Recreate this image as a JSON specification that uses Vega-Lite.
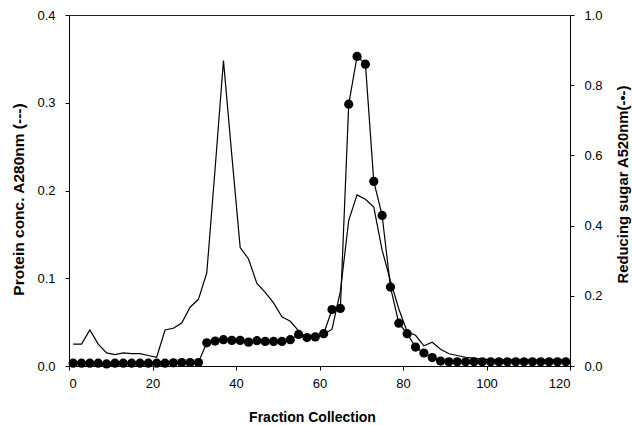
{
  "$schema": "https://vega.github.io/schema/vega-lite/v6.json",
  "width": 501,
  "height": 351,
  "autosize": {"type": "none"},
  "padding": {"left": 69, "top": 15, "right": 62, "bottom": 59},
  "background": "white",
  "config": {
    "view": {"stroke": "#222", "strokeWidth": 1},
    "font": "Liberation Sans",
    "axis": {
      "domainColor": "#000",
      "tickColor": "#000",
      "tickSize": 4,
      "labelColor": "#000",
      "labelFont": "Liberation Sans",
      "labelFontSize": 13,
      "titleFont": "Liberation Sans",
      "titleFontWeight": "bold",
      "titleColor": "#000",
      "grid": false
    }
  },
  "data": {
    "values": [
      {"fraction": 1, "protein": 0.025, "sugar": 0.008},
      {"fraction": 3, "protein": 0.025, "sugar": 0.008},
      {"fraction": 5, "protein": 0.041, "sugar": 0.008},
      {"fraction": 7, "protein": 0.025, "sugar": 0.008},
      {"fraction": 9, "protein": 0.015, "sugar": 0.006},
      {"fraction": 11, "protein": 0.013, "sugar": 0.008},
      {"fraction": 13, "protein": 0.015, "sugar": 0.008},
      {"fraction": 15, "protein": 0.014, "sugar": 0.008},
      {"fraction": 17, "protein": 0.014, "sugar": 0.008},
      {"fraction": 19, "protein": 0.012, "sugar": 0.008},
      {"fraction": 21, "protein": 0.010, "sugar": 0.008},
      {"fraction": 23, "protein": 0.041, "sugar": 0.008},
      {"fraction": 25, "protein": 0.043, "sugar": 0.009},
      {"fraction": 27, "protein": 0.049, "sugar": 0.010},
      {"fraction": 29, "protein": 0.067, "sugar": 0.010},
      {"fraction": 31, "protein": 0.076, "sugar": 0.010},
      {"fraction": 33, "protein": 0.106, "sugar": 0.066},
      {"fraction": 35, "protein": 0.225, "sugar": 0.071},
      {"fraction": 37, "protein": 0.348, "sugar": 0.075},
      {"fraction": 39, "protein": 0.240, "sugar": 0.073},
      {"fraction": 41, "protein": 0.135, "sugar": 0.073},
      {"fraction": 43, "protein": 0.122, "sugar": 0.068},
      {"fraction": 45, "protein": 0.094, "sugar": 0.072},
      {"fraction": 47, "protein": 0.084, "sugar": 0.070},
      {"fraction": 49, "protein": 0.072, "sugar": 0.070},
      {"fraction": 51, "protein": 0.056, "sugar": 0.070},
      {"fraction": 53, "protein": 0.051, "sugar": 0.075},
      {"fraction": 55, "protein": 0.040, "sugar": 0.090},
      {"fraction": 57, "protein": 0.032, "sugar": 0.081},
      {"fraction": 59, "protein": 0.032, "sugar": 0.083},
      {"fraction": 61, "protein": 0.036, "sugar": 0.092},
      {"fraction": 63, "protein": 0.042, "sugar": 0.161},
      {"fraction": 65, "protein": 0.085, "sugar": 0.164},
      {"fraction": 67, "protein": 0.166, "sugar": 0.746},
      {"fraction": 69, "protein": 0.195, "sugar": 0.882},
      {"fraction": 71, "protein": 0.190, "sugar": 0.860},
      {"fraction": 73, "protein": 0.181, "sugar": 0.526},
      {"fraction": 75, "protein": 0.132, "sugar": 0.429},
      {"fraction": 77, "protein": 0.097, "sugar": 0.225},
      {"fraction": 79, "protein": 0.065, "sugar": 0.122},
      {"fraction": 81, "protein": 0.039, "sugar": 0.092},
      {"fraction": 83, "protein": 0.035, "sugar": 0.054},
      {"fraction": 85, "protein": 0.023, "sugar": 0.037},
      {"fraction": 87, "protein": 0.027, "sugar": 0.024},
      {"fraction": 89, "protein": 0.019, "sugar": 0.014},
      {"fraction": 91, "protein": 0.014, "sugar": 0.012},
      {"fraction": 93, "protein": 0.012, "sugar": 0.012},
      {"fraction": 95, "protein": 0.010, "sugar": 0.012},
      {"fraction": 97, "protein": 0.009, "sugar": 0.012},
      {"fraction": 99, "protein": 0.008, "sugar": 0.012},
      {"fraction": 101, "protein": 0.007, "sugar": 0.012},
      {"fraction": 103, "protein": 0.007, "sugar": 0.012},
      {"fraction": 105, "protein": 0.007, "sugar": 0.012},
      {"fraction": 107, "protein": 0.007, "sugar": 0.012},
      {"fraction": 109, "protein": 0.007, "sugar": 0.012},
      {"fraction": 111, "protein": 0.007, "sugar": 0.012},
      {"fraction": 113, "protein": 0.007, "sugar": 0.012},
      {"fraction": 115, "protein": 0.007, "sugar": 0.012},
      {"fraction": 117, "protein": 0.007, "sugar": 0.012},
      {"fraction": 119, "protein": 0.007, "sugar": 0.012}
    ]
  },
  "encoding": {
    "x": {
      "field": "fraction",
      "type": "quantitative",
      "scale": {"domain": [0, 120], "nice": false},
      "axis": {
        "values": [0, 20, 40, 60, 80, 100, 120],
        "format": "d",
        "labelPadding": 7,
        "title": "Fraction Collection",
        "titleFontSize": 14,
        "titleX": 243,
        "titleY": 55,
        "titleBaseline": "alphabetic",
        "titleAlign": "center"
      }
    }
  },
  "layer": [
    {
      "mark": {"type": "line", "color": "#000", "strokeWidth": 1.2},
      "encoding": {
        "y": {
          "field": "protein",
          "type": "quantitative",
          "scale": {"domain": [0, 0.4], "nice": false},
          "axis": {
            "orient": "left",
            "values": [0, 0.1, 0.2, 0.3, 0.4],
            "format": ".1f",
            "labelPadding": 10,
            "title": "Protein conc. A280nm (---)",
            "titleFontSize": 15.5,
            "titleAngle": 270,
            "titleX": -51,
            "titleY": 184,
            "titleBaseline": "middle",
            "titleAlign": "center"
          }
        }
      }
    },
    {
      "mark": {
        "type": "line",
        "color": "#000",
        "strokeWidth": 1.2,
        "point": {"filled": true, "size": 85, "color": "#000", "opacity": 1}
      },
      "encoding": {
        "y": {
          "field": "sugar",
          "type": "quantitative",
          "scale": {"domain": [0, 1], "nice": false},
          "axis": {
            "orient": "right",
            "values": [0, 0.2, 0.4, 0.6, 0.8, 1.0],
            "format": ".1f",
            "labelPadding": 10,
            "title": "Reducing sugar A520nm(-•-)",
            "titleFontSize": 14.8,
            "titleAngle": 270,
            "titleX": 53,
            "titleY": 169,
            "titleBaseline": "middle",
            "titleAlign": "center"
          }
        }
      }
    }
  ],
  "resolve": {"scale": {"y": "independent"}}
}
